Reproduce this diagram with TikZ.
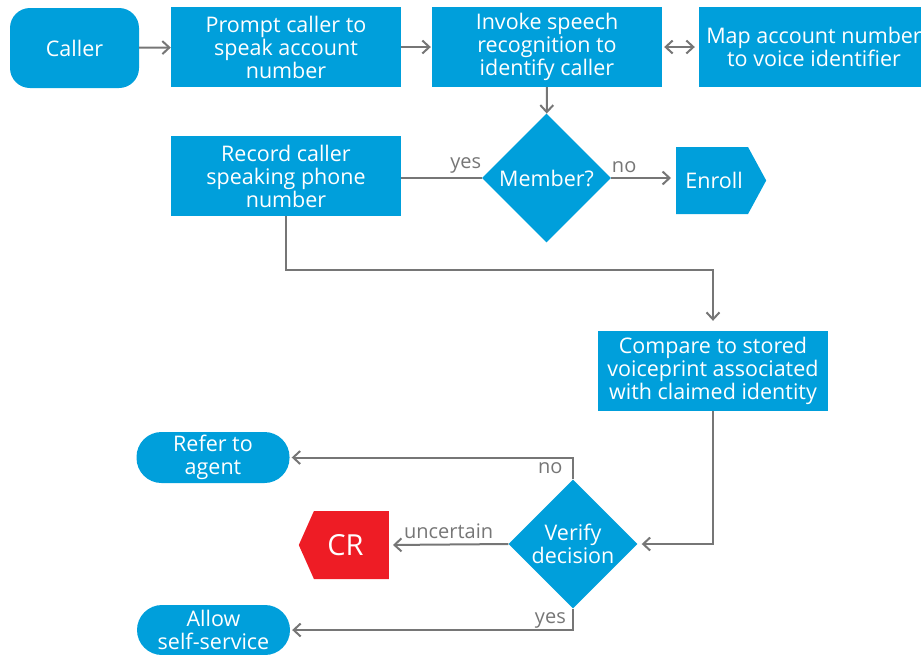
\documentclass[tikz,border=0pt]{standalone}
\usepackage{fontspec}
\setmainfont{Open Sans}
\usepackage{tikz}
\usetikzlibrary{arrows.meta}
\usetikzlibrary{shapes.geometric}
\usetikzlibrary{shapes.symbols}
\definecolor{attblue}{HTML}{009FDB}
\definecolor{attred}{HTML}{EE1C25}
\definecolor{linegray}{HTML}{767676}

\begin{document}
\begin{tikzpicture}
        [x=1pt,y=-1pt,
        process/.style={rectangle,fill=attblue,text=white,minimum width=230,minimum height=80,inner sep=0,align=center,font=\fontsize{21.5}{23}\selectfont},
        terminal/.style={rectangle,rounded corners=25,fill=attblue,text=white,minimum width=153,inner sep=0,align=center,font=\fontsize{21.5}{23}\selectfont},
        decision/.style={diamond,aspect=1,fill=attblue,text=white,minimum width=129,minimum height=129,inner sep=0,align=center,font=\fontsize{21.5}{23}\selectfont},
        offpage/.style={signal,fill=#1,text=white,minimum height=67,inner sep=0},
        label/.style={text=linegray,font=\fontsize{20}{22}\selectfont,inner sep=0},
        on/.style={->,>={Straight Barb[length=7,width=13]},draw=linegray,line width=2},
        with/.style={<->,>={Straight Barb[length=7,width=13]},draw=linegray,line width=2},
        to/.style={draw=linegray,line width=2}]
\useasboundingbox (0,0) rectangle (921,654);

% Top Row %
\node[terminal,rounded corners=20,minimum width=129,minimum height=80] (caller) at (74.5,48) {Caller};
\node[process] (prompt) at (286,47) {Prompt caller to\\speak account\\number};
\node[process] (invoke) at (547,47) {Invoke speech\\recognition to\\identify caller};
\node[process] (map) at (814,47) {Map account number\\to voice identifier};

% Member Check %
\node[decision] (member) at (546.5,178) {Member?};
\node[process] (record) at (286,176) {Record caller\\speaking phone\\number};
\node[offpage=attblue,signal to=east,signal pointer angle=123,minimum width=90,anchor=west,
      font=\fontsize{21.5}{23}\selectfont] (enroll) at (676,180.5) {\hspace*{4pt}Enroll};

% Verification %
\node[process] (compare) at (713,371) {Compare to stored\\voiceprint associated\\with claimed identity};
\node[decision] (verify) at (573,544) {Verify\\decision};
\node[terminal,minimum height=51] (refer) at (213,457.5) {Refer to\\agent};
\node[offpage=attred,signal to=west,signal pointer angle=132,minimum width=90,minimum height=68,anchor=east,
      font=\fontsize{29}{31}\selectfont] (cr) at (389,545) {CR\hspace*{12pt}};
\node[terminal,minimum height=50] (allow) at (213.5,630) {Allow\\self-service};

% Arrows %
\path (caller) edge [on] (prompt);
\path (prompt) edge [on,shorten >=1] (invoke);
\path (invoke) edge [with,shorten >=4,shorten <=2] (map);
\path (invoke) edge [on] (member);
\path (member.west) edge [to] node[label,above=4,pos=0.2] {yes} (member.west -| record.east);
\path (member.east) edge [on,shorten >=5] node[label,above=4,pos=0.2] {no} (member.east -| enroll.west);
\draw [on,shorten >=10] (record.south) -- ++(0,54) -| (compare.north);
\draw [on,shorten >=4] (compare.south) |- (verify.east);
\draw [on,shorten >=2] (verify.north) |- node[label,pos=0.54,below=4] {no} (refer.east);
\path (verify.west) edge [on,shorten >=4] node[label,above=5] {uncertain} (cr.east);
\draw [on,shorten >=2] (verify.south) |- node[label,pos=0.54,above=1] {yes} (allow.east);
\end{tikzpicture}
\end{document}
